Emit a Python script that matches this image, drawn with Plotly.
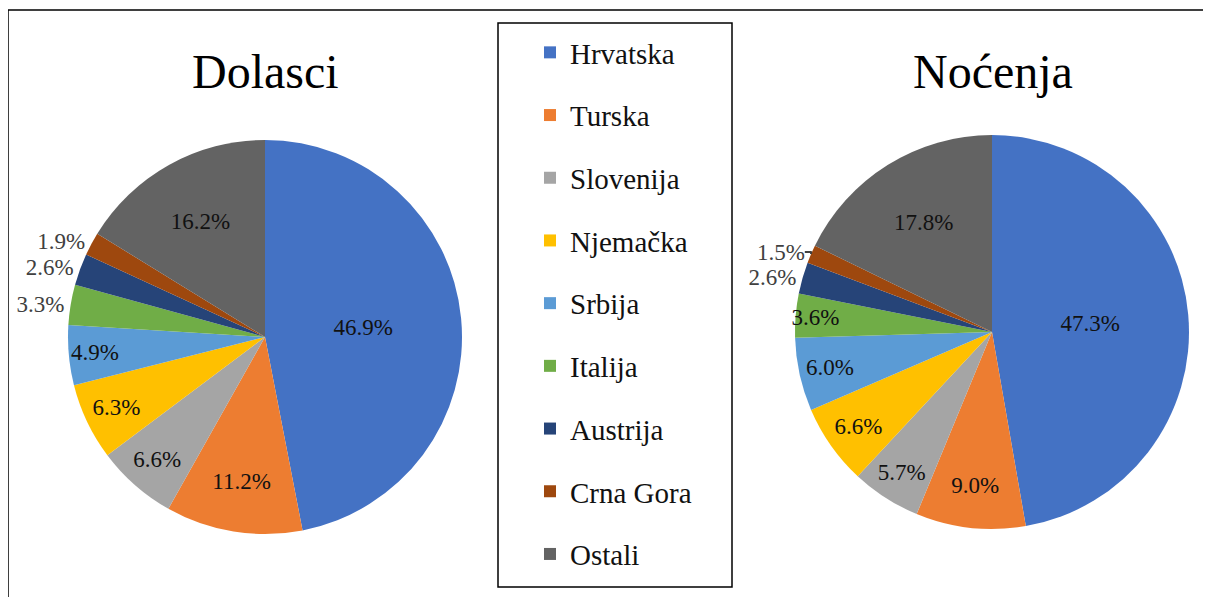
import plotly.graph_objects as go

categories = ["Hrvatska", "Turska", "Slovenija", "Njemačka", "Srbija",
              "Italija", "Austrija", "Crna Gora", "Ostali"]
dolasci = [46.9, 11.2, 6.6, 6.3, 4.9, 3.3, 2.6, 1.9, 16.2]
nocenja = [47.3, 9.0, 5.7, 6.6, 6.0, 3.6, 2.6, 1.5, 17.8]
colors = ["#4472C4", "#ED7D31", "#A5A5A5", "#FFC000", "#5B9BD5",
          "#70AD47", "#264478", "#9E480E", "#636363"]
titles = ["Dolasci", "Noćenja"]

W, H = 1211, 597
OFF = 8  # page body margin
FONT = "Liberation Serif, Times New Roman, DejaVu Serif, serif"


def px_x(v):
    return (v - OFF) / W


def px_y(v):
    return 1 - (v - OFF) / H


def positions(vals):
    return ["inside" if v >= 3.5 else "outside" for v in vals]


fig = go.Figure()

pie_domains = [
    dict(x=[px_x(68), px_x(462)], y=[px_y(534), px_y(140)]),
    dict(x=[px_x(795), px_x(1189)], y=[px_y(529), px_y(135)]),
]

for vals, dom in zip([dolasci, nocenja], pie_domains):
    fig.add_trace(go.Pie(
        labels=categories,
        values=vals,
        text=[f"{v:.1f}%" for v in vals],
        textinfo="text",
        textposition=positions(vals),
        insidetextorientation="horizontal",
        sort=False,
        direction="clockwise",
        rotation=0,
        marker=dict(colors=colors, line=dict(width=0)),
        insidetextfont=dict(family=FONT, size=23, color="#111111"),
        outsidetextfont=dict(family=FONT, size=23, color="#404040"),
        domain=dom,
        showlegend=False,
        hoverinfo="label+text",
    ))

# legend entries (one group each, for spacing)
for name, col in zip(categories, colors):
    fig.add_trace(go.Scatter(
        x=[None], y=[None], mode="markers", name=name, legendgroup=name,
        marker=dict(symbol="square", size=13, color=col),
        showlegend=True,
    ))

fig.update_layout(
    width=W, height=H,
    margin=dict(l=0, r=0, t=0, b=0),
    paper_bgcolor="white",
    plot_bgcolor="white",
    xaxis=dict(visible=False),
    yaxis=dict(visible=False),
    uniformtext=dict(minsize=23, mode="show"),
    legend=dict(
        x=px_x(530), y=px_y(27), xanchor="left", yanchor="top",
        font=dict(family=FONT, size=29, color="#111111"),
        tracegroupgap=22,
        traceorder="grouped",
        bgcolor="rgba(0,0,0,0)",
        borderwidth=0,
        itemsizing="constant",
    ),
    shapes=[
        dict(type="rect", xref="paper", yref="paper",
             x0=px_x(8), x1=px_x(1204), y0=px_y(610), y1=px_y(10),
             line=dict(color="black", width=1.5), fillcolor="rgba(0,0,0,0)"),
        dict(type="rect", xref="paper", yref="paper",
             x0=px_x(498), x1=px_x(732), y0=px_y(587), y1=px_y(23),
             line=dict(color="black", width=1.5), fillcolor="rgba(0,0,0,0)"),
    ],
    annotations=[
        dict(text=titles[0], x=px_x(265), y=px_y(71), xref="paper", yref="paper",
             xanchor="center", yanchor="middle",
             showarrow=False, font=dict(family=FONT, size=48, color="black")),
        dict(text=titles[1], x=px_x(993), y=px_y(71), xref="paper", yref="paper",
             xanchor="center", yanchor="middle",
             showarrow=False, font=dict(family=FONT, size=48, color="black")),
    ],
)

fig.write_html("out.html")
